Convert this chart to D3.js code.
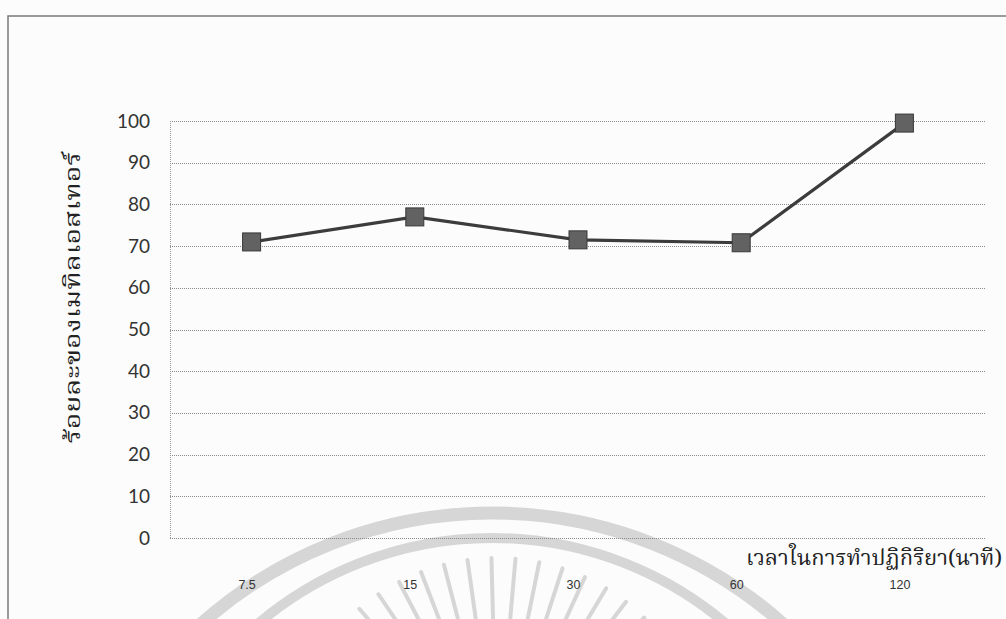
<!DOCTYPE html>
<html>
<head>
<meta charset="utf-8">
<script src="https://cdn.jsdelivr.net/npm/d3@7"></script>
<style>
  html, body { margin: 0; padding: 0; background: #fcfcfc; }
  svg { display: block; }
</style>
</head>
<body>
<svg id="chart" width="1006" height="619"></svg>
<script>
// Reaction time (minutes) vs. methyl ester yield (%)
const categories = ["7.5", "15", "30", "60", "120"];
const yieldValues = [71, 77, 71.5, 70.8, 99.5];
const yTicks = [0, 10, 20, 30, 40, 50, 60, 70, 80, 90, 100];
const yTitle = "ร้อยละของเมทิลเอสเทอร์";
const xTitle = "เวลาในการทำปฏิกิริยา(นาที)";

const W = 1006, H = 619;
const plot = { left: 170, right: 986, top: 121, bottom: 538 };
const thaiFont = "'Noto Serif Thai', 'Noto Sans Thai', 'Tlwg Typo', 'Garuda', 'Loma', 'Norasi', serif";

const svg = d3.select("#chart");

// faint seal printed behind the chart
const seal = svg.append("g").attr("fill", "none").attr("stroke", "#d6d6d6");
seal.append("circle").attr("cx", 492).attr("cy", 950).attr("r", 437).attr("stroke-width", 13);
seal.append("circle").attr("cx", 492).attr("cy", 900).attr("r", 362).attr("stroke-width", 10);
const rayCenter = [497, 770];
d3.range(-150, -29, 6.5).forEach(a => {
  const t = a * Math.PI / 180;
  seal.append("line")
    .attr("x1", rayCenter[0] + Math.cos(t) * 100).attr("y1", rayCenter[1] + Math.sin(t) * 100)
    .attr("x2", rayCenter[0] + Math.cos(t) * 212).attr("y2", rayCenter[1] + Math.sin(t) * 212)
    .attr("stroke-width", 4).attr("stroke-linecap", "round");
});

// chart frame
svg.append("rect")
  .attr("x", 8).attr("y", 16).attr("width", W).attr("height", H)
  .attr("fill", "none").attr("stroke", "#7a7a7a").attr("stroke-width", 1.5);

const x = d3.scalePoint().domain(categories).range([plot.left, plot.right]).padding(0.5);
const y = d3.scaleLinear().domain([0, 100]).range([plot.bottom, plot.top]);

// horizontal gridlines
svg.append("g")
  .selectAll("line").data(yTicks).join("line")
  .attr("x1", plot.left).attr("x2", plot.right)
  .attr("y1", d => Math.round(y(d)) + 0.5).attr("y2", d => Math.round(y(d)) + 0.5)
  .attr("stroke", "#8a8a8a").attr("stroke-width", 1).attr("stroke-dasharray", "1,1");

// plot-area left edge
svg.append("line")
  .attr("x1", plot.left + 0.5).attr("x2", plot.left + 0.5)
  .attr("y1", plot.top).attr("y2", plot.bottom)
  .attr("stroke", "#9a9a9a").attr("stroke-dasharray", "1,1");

// y axis tick labels
const yAxis = d3.axisLeft(y).tickValues(yTicks).tickSize(0).tickPadding(20);
const yG = svg.append("g").attr("transform", `translate(${plot.left},0)`).call(yAxis);
yG.select(".domain").remove();
yG.selectAll("text")
  .attr("font-family", "Lato, 'Open Sans', sans-serif")
  .attr("font-size", 19).attr("fill", "#333");

// x axis tick labels, sitting well below the plot
const xAxis = d3.axisBottom(x).tickSize(0).tickPadding(0);
const xG = svg.append("g").attr("transform", `translate(-5,${plot.bottom + 42})`).call(xAxis);
xG.select(".domain").remove();
xG.selectAll("text")
  .attr("font-family", "'Liberation Sans', Arial, sans-serif")
  .attr("font-size", 12.5).attr("fill", "#333");

// series line
svg.append("path")
  .datum(categories.map((c, i) => [c, yieldValues[i]]))
  .attr("fill", "none").attr("stroke", "#3c3c3c").attr("stroke-width", 3.2)
  .attr("d", d3.line().x(d => x(d[0])).y(d => y(d[1])));

// square markers
const m = 18;
svg.append("g")
  .selectAll("rect").data(categories.map((c, i) => [c, yieldValues[i]])).join("rect")
  .attr("x", d => x(d[0]) - m / 2).attr("y", d => y(d[1]) - m / 2)
  .attr("width", m).attr("height", m)
  .attr("fill", "#626262").attr("stroke", "#383838").attr("stroke-width", 1);

// axis titles
svg.append("text")
  .attr("transform", `translate(80,${(150 + 445) / 2}) rotate(-90)`)
  .attr("text-anchor", "middle")
  .attr("font-family", thaiFont).attr("font-size", 22).attr("fill", "#222")
  .attr("textLength", 292).attr("lengthAdjust", "spacingAndGlyphs")
  .text(yTitle);

svg.append("text")
  .attr("x", 746).attr("y", 565)
  .attr("font-family", thaiFont).attr("font-size", 21).attr("fill", "#222")
  .attr("textLength", 256).attr("lengthAdjust", "spacingAndGlyphs")
  .text(xTitle);
</script>
</body>
</html>
